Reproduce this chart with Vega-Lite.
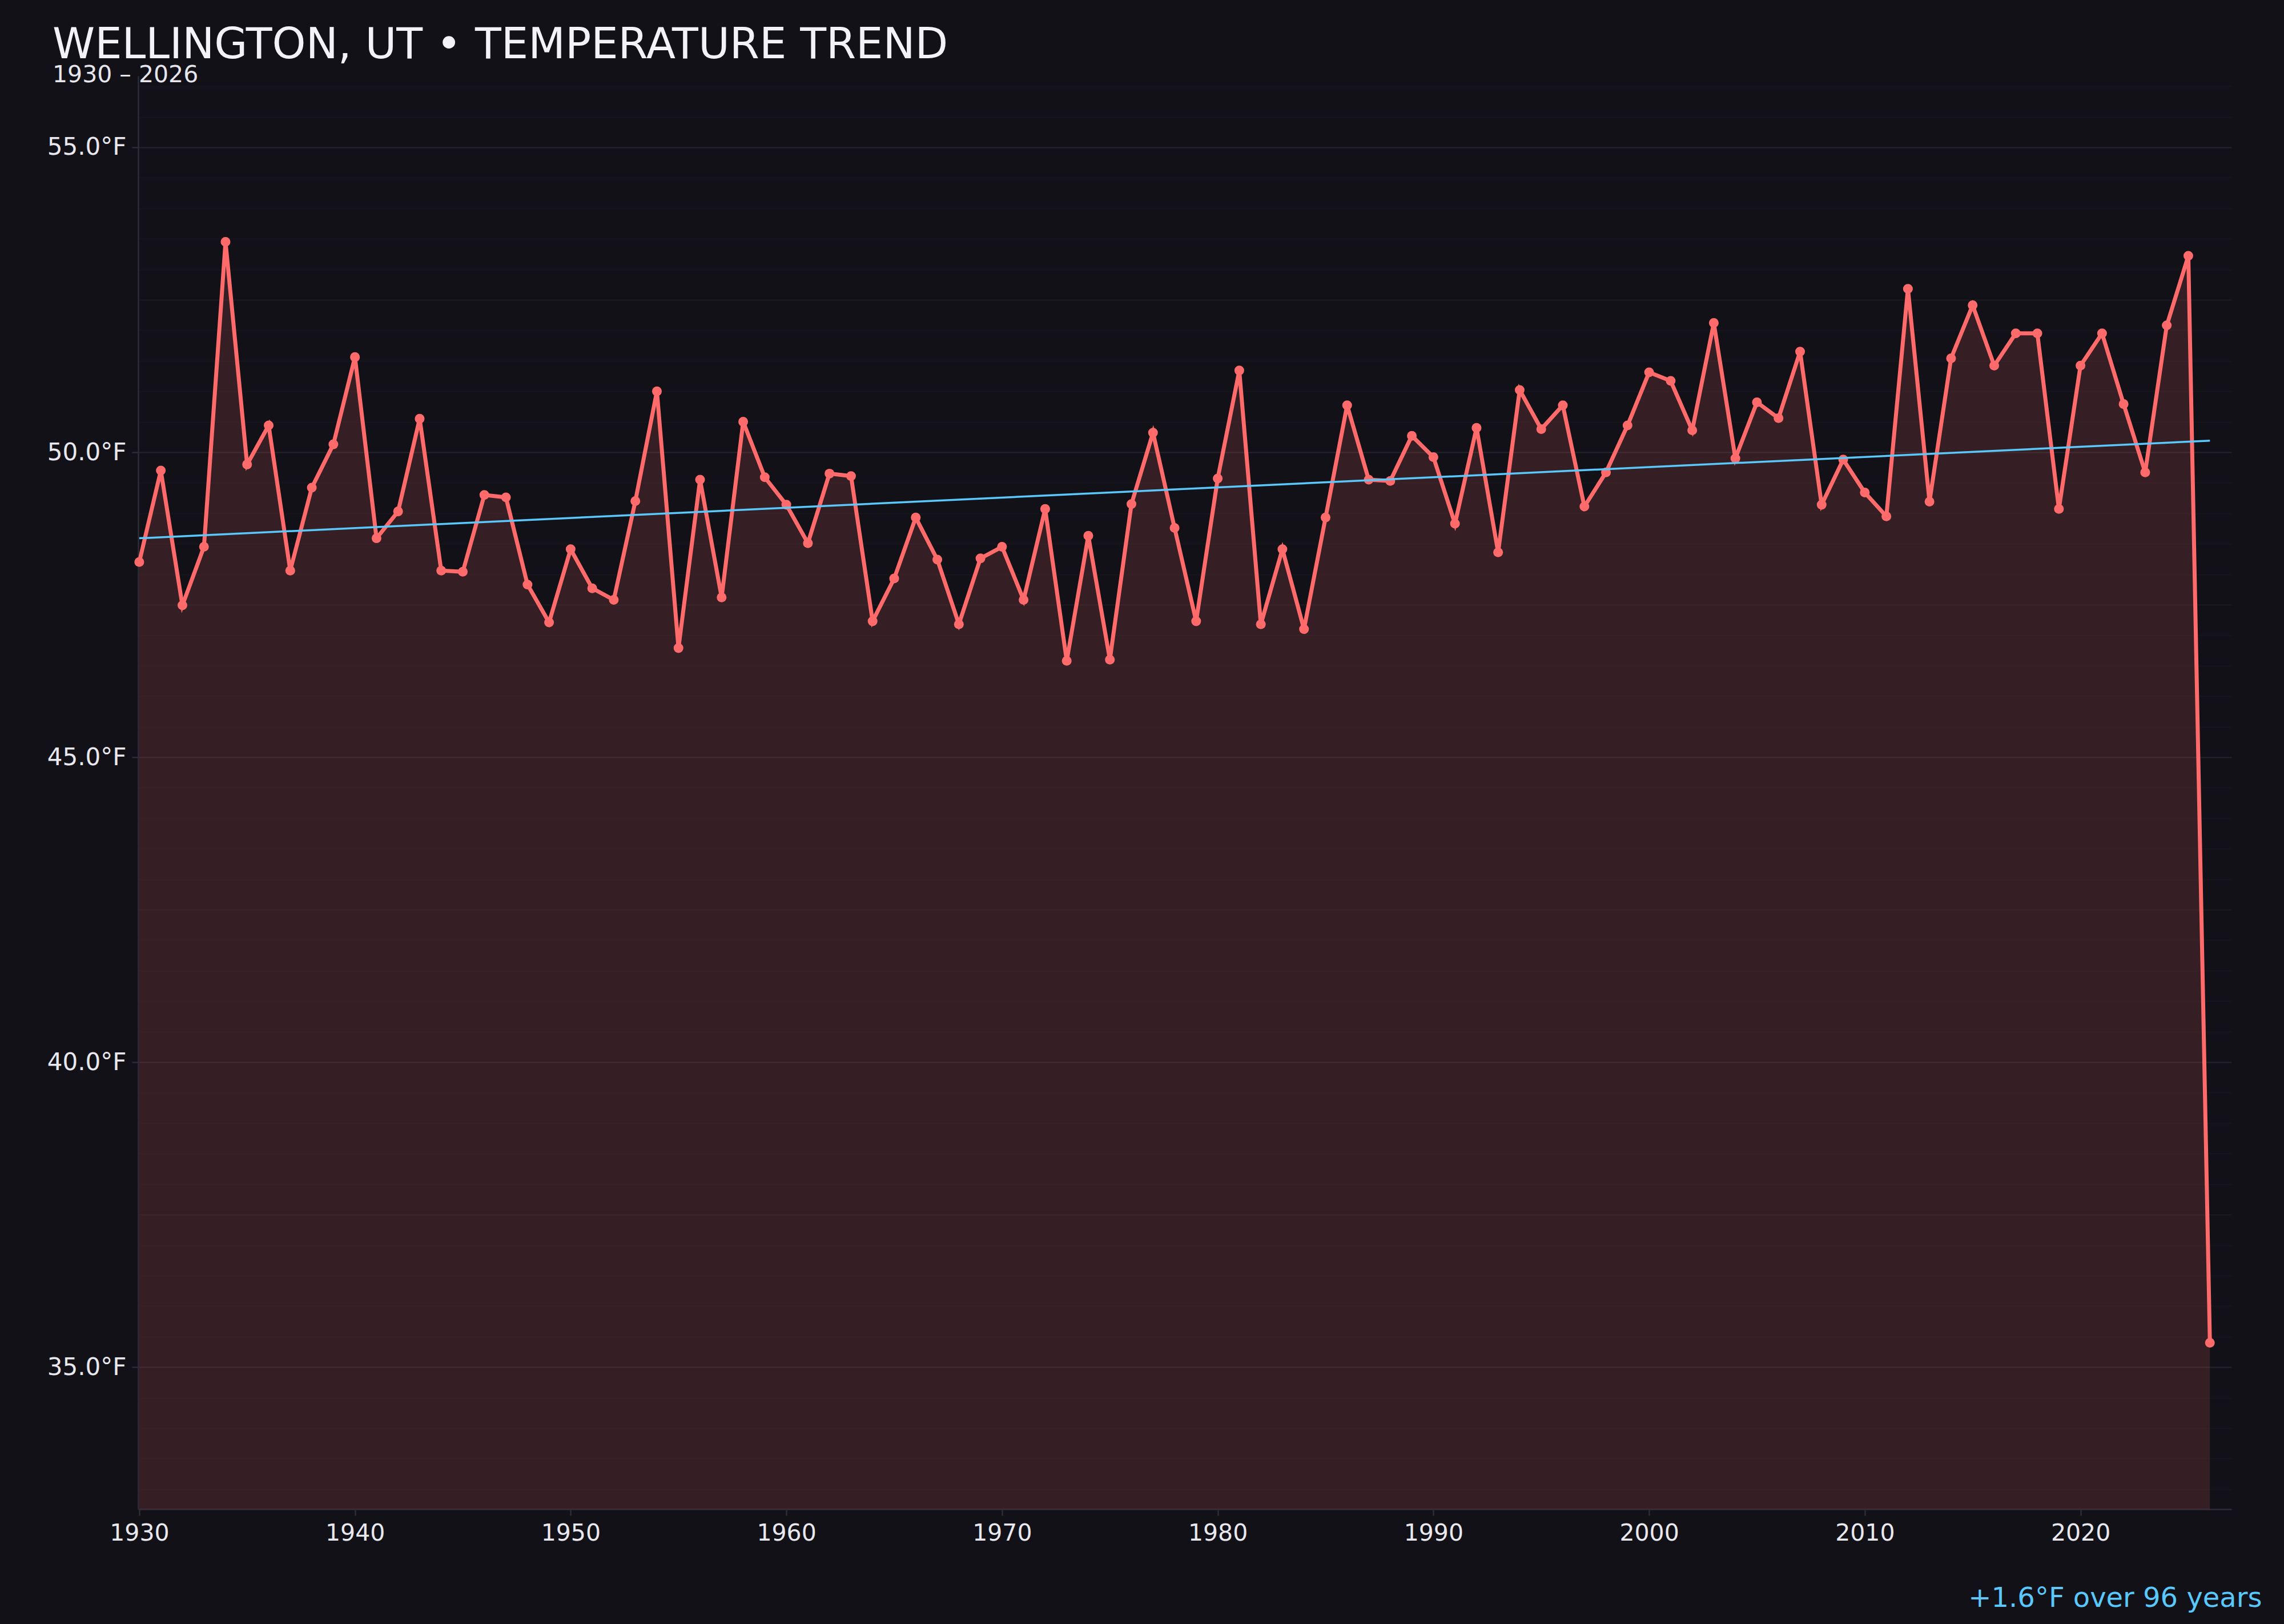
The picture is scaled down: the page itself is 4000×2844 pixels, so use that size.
{
  "$schema": "https://vega.github.io/schema/vega-lite/v6.json",
  "autosize": {"type": "none"},
  "width": 3666,
  "height": 2510,
  "padding": {"left": 242, "top": 133, "right": 92, "bottom": 201},
  "background": "#121118",
  "title": {
    "text": "WELLINGTON, UT • TEMPERATURE TREND",
    "subtitle": "1930 – 2026",
    "anchor": "start",
    "frame": "group",
    "dx": -150,
    "offset": -20,
    "font": "DejaVu Sans",
    "fontSize": 75,
    "fontWeight": "normal",
    "color": "#f2f2f7",
    "subtitleFont": "DejaVu Sans",
    "subtitleFontSize": 41,
    "subtitleColor": "#e6e6ec",
    "subtitlePadding": -6
  },
  "config": {
    "font": "DejaVu Sans",
    "view": {"stroke": null},
    "axis": {"labelFont": "DejaVu Sans", "titleFont": "DejaVu Sans"}
  },
  "datasets": {
    "temps": [
      {"year": 1930, "temp": 48.20}, {"year": 1931, "temp": 49.70}, {"year": 1932, "temp": 47.49},
      {"year": 1933, "temp": 48.45}, {"year": 1934, "temp": 53.45}, {"year": 1935, "temp": 49.80},
      {"year": 1936, "temp": 50.44}, {"year": 1937, "temp": 48.06}, {"year": 1938, "temp": 49.42},
      {"year": 1939, "temp": 50.13}, {"year": 1940, "temp": 51.56}, {"year": 1941, "temp": 48.59},
      {"year": 1942, "temp": 49.03}, {"year": 1943, "temp": 50.55}, {"year": 1944, "temp": 48.06},
      {"year": 1945, "temp": 48.04}, {"year": 1946, "temp": 49.30}, {"year": 1947, "temp": 49.26},
      {"year": 1948, "temp": 47.83}, {"year": 1949, "temp": 47.21}, {"year": 1950, "temp": 48.41},
      {"year": 1951, "temp": 47.77}, {"year": 1952, "temp": 47.58}, {"year": 1953, "temp": 49.20},
      {"year": 1954, "temp": 51.00}, {"year": 1955, "temp": 46.79}, {"year": 1956, "temp": 49.55},
      {"year": 1957, "temp": 47.62}, {"year": 1958, "temp": 50.50}, {"year": 1959, "temp": 49.59},
      {"year": 1960, "temp": 49.14}, {"year": 1961, "temp": 48.51}, {"year": 1962, "temp": 49.65},
      {"year": 1963, "temp": 49.61}, {"year": 1964, "temp": 47.23}, {"year": 1965, "temp": 47.93},
      {"year": 1966, "temp": 48.93}, {"year": 1967, "temp": 48.24}, {"year": 1968, "temp": 47.18},
      {"year": 1969, "temp": 48.26}, {"year": 1970, "temp": 48.45}, {"year": 1971, "temp": 47.58},
      {"year": 1972, "temp": 49.07}, {"year": 1973, "temp": 46.58}, {"year": 1974, "temp": 48.63},
      {"year": 1975, "temp": 46.60}, {"year": 1976, "temp": 49.15}, {"year": 1977, "temp": 50.32},
      {"year": 1978, "temp": 48.76}, {"year": 1979, "temp": 47.23}, {"year": 1980, "temp": 49.57},
      {"year": 1981, "temp": 51.34}, {"year": 1982, "temp": 47.18}, {"year": 1983, "temp": 48.41},
      {"year": 1984, "temp": 47.10}, {"year": 1985, "temp": 48.93}, {"year": 1986, "temp": 50.77},
      {"year": 1987, "temp": 49.55}, {"year": 1988, "temp": 49.53}, {"year": 1989, "temp": 50.27},
      {"year": 1990, "temp": 49.92}, {"year": 1991, "temp": 48.83}, {"year": 1992, "temp": 50.40},
      {"year": 1993, "temp": 48.36}, {"year": 1994, "temp": 51.02}, {"year": 1995, "temp": 50.38},
      {"year": 1996, "temp": 50.77}, {"year": 1997, "temp": 49.11}, {"year": 1998, "temp": 49.67},
      {"year": 1999, "temp": 50.44}, {"year": 2000, "temp": 51.31}, {"year": 2001, "temp": 51.17},
      {"year": 2002, "temp": 50.36}, {"year": 2003, "temp": 52.12}, {"year": 2004, "temp": 49.90},
      {"year": 2005, "temp": 50.82}, {"year": 2006, "temp": 50.56}, {"year": 2007, "temp": 51.65},
      {"year": 2008, "temp": 49.14}, {"year": 2009, "temp": 49.88}, {"year": 2010, "temp": 49.34},
      {"year": 2011, "temp": 48.95}, {"year": 2012, "temp": 52.68}, {"year": 2013, "temp": 49.19},
      {"year": 2014, "temp": 51.54}, {"year": 2015, "temp": 52.41}, {"year": 2016, "temp": 51.42},
      {"year": 2017, "temp": 51.95}, {"year": 2018, "temp": 51.95}, {"year": 2019, "temp": 49.07},
      {"year": 2020, "temp": 51.42}, {"year": 2021, "temp": 51.95}, {"year": 2022, "temp": 50.79},
      {"year": 2023, "temp": 49.67}, {"year": 2024, "temp": 52.08}, {"year": 2025, "temp": 53.22},
      {"year": 2026, "temp": 35.40}
    ],
    "trend": [
      {"year": 1930, "temp": 48.59},
      {"year": 2026, "temp": 50.19}
    ]
  },
  "data": {"name": "temps"},
  "encoding": {
    "x": {
      "field": "year",
      "type": "quantitative",
      "scale": {"domain": [1929.95, 2027], "nice": false, "zero": false},
      "axis": {
        "values": [1930, 1940, 1950, 1960, 1970, 1980, 1990, 2000, 2010, 2020],
        "format": "d",
        "grid": false,
        "domainColor": "#2e2d37",
        "domainWidth": 2.5,
        "tickColor": "#2e2d37",
        "tickWidth": 2.5,
        "tickSize": 11,
        "labelFontSize": 41,
        "labelColor": "#e8e8ee",
        "labelPadding": 11,
        "title": "+1.6°F over 96 years",
        "titleColor": "#5AC8FA",
        "titleFontSize": 48,
        "titleFontWeight": "normal",
        "titleAnchor": "end",
        "titleAlign": "right",
        "titleBaseline": "alphabetic",
        "titleX": 3719,
        "titleY": 170
      }
    },
    "y": {
      "field": "temp",
      "type": "quantitative",
      "scale": {"domain": [32.67, 56.17], "nice": false, "zero": false},
      "axis": {
        "values": [33, 33.5, 34, 34.5, 35, 35.5, 36, 36.5, 37, 37.5, 38, 38.5, 39, 39.5, 40, 40.5, 41, 41.5, 42, 42.5, 43, 43.5, 44, 44.5, 45, 45.5, 46, 46.5, 47, 47.5, 48, 48.5, 49, 49.5, 50, 50.5, 51, 51.5, 52, 52.5, 53, 53.5, 54, 54.5, 55, 55.5, 56],
        "labelExpr": "datum.value % 5 === 0 ? format(datum.value, '.1f') + '°F' : ''",
        "title": null,
        "grid": true,
        "gridWidth": 2,
        "gridColor": {
          "condition": [
            {"test": "datum.value % 5 === 0", "value": "#25242c"},
            {"test": "datum.value % 2.5 === 0", "value": "#1b1a21"}
          ],
          "value": "#16151c"
        },
        "tickOpacity": {
          "condition": {"test": "datum.value % 5 === 0", "value": 1},
          "value": 0
        },
        "domainColor": "#2e2d37",
        "domainWidth": 2.5,
        "tickColor": "#2e2d37",
        "tickWidth": 2.5,
        "tickSize": 11,
        "labelFontSize": 42,
        "labelColor": "#e8e8ee",
        "labelPadding": 10
      }
    }
  },
  "layer": [
    {
      "mark": {"type": "area", "color": "#FF6B6B", "opacity": 0.15},
      "encoding": {"y2": {"datum": 32.67}}
    },
    {
      "mark": {"type": "line", "color": "#FF6B6B", "strokeWidth": 7}
    },
    {
      "mark": {"type": "point", "filled": true, "color": "#FF6B6B", "size": 290, "opacity": 1}
    },
    {
      "data": {"name": "trend"},
      "mark": {"type": "line", "color": "#5AC8FA", "strokeWidth": 3.5}
    }
  ]
}
